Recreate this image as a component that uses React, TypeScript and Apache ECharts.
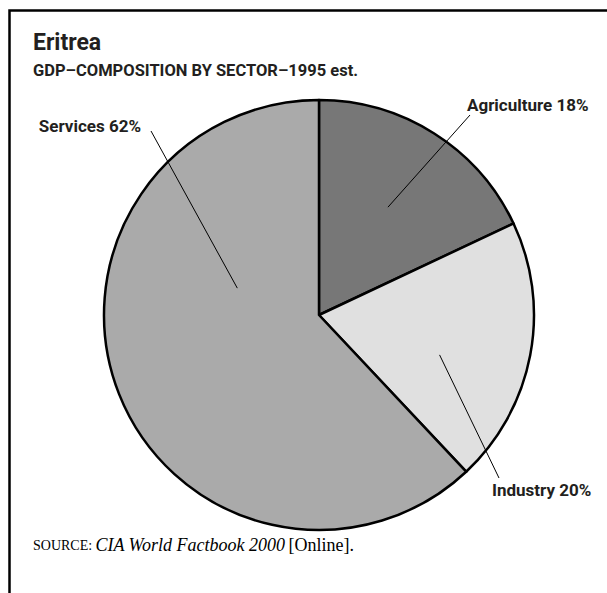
import React, { useEffect, useRef } from "react";
import * as echarts from "echarts";

const sectors = ["Agriculture", "Industry", "Services"];
const shares = [18, 20, 62];
const sliceColors = ["#777777", "#e0e0e0", "#aaaaaa"];

// label layout (style): text anchor x, y, alignment; leader line start (angle from top in deg, radius px) and end point
const labelAnchors = [
  { x: 467, y: 105, align: "left", startAngle: 32.6, startR: 128, end: [470, 115] },
  { x: 492, y: 490, align: "left", startAngle: 108.3, startR: 127, end: [499, 478] },
  { x: 141, y: 126, align: "right", startAngle: 288.2, startR: 86, end: [151, 131] },
];

const CX = 319;
const CY = 315;
const R = 215;

const sans = "Roboto, 'Liberation Sans', sans-serif";
const ink = "#231f20";

export default function App() {
  const ref = useRef<HTMLDivElement>(null);
  useEffect(() => {
    document.body.style.margin = "0";
    const chart = echarts.init(ref.current!, null, { renderer: "svg" });
    const data = sectors.map((name, i) => ({
      name,
      value: shares[i],
      itemStyle: { color: sliceColors[i] },
    }));
    const leaderLines = labelAnchors.map((a) => {
      const ang = (a.startAngle * Math.PI) / 180;
      return {
        type: "line",
        z: 100,
        shape: {
          x1: CX + a.startR * Math.sin(ang),
          y1: CY - a.startR * Math.cos(ang),
          x2: a.end[0],
          y2: a.end[1],
        },
        style: { stroke: "#000", lineWidth: 1 },
      };
    });
    chart.setOption({
      animation: false,
      backgroundColor: "#ffffff",
      series: [
        {
          type: "pie",
          center: [CX, CY],
          radius: [0, R],
          startAngle: 90,
          clockwise: true,
          avoidLabelOverlap: false,
          data,
          itemStyle: { borderColor: "#000", borderWidth: 2.5 },
          emphasis: { disabled: true },
          label: {
            show: true,
            position: "outside",
            formatter: (p: any) => `${p.name} ${p.value}%`,
            fontFamily: sans,
            fontWeight: "bold",
            fontSize: 17,
            color: ink,
          },
          labelLine: { show: false },
          labelLayout: (params: any) => {
            const a = labelAnchors[params.dataIndex];
            return {
              x: a.x,
              y: a.y,
              align: a.align,
              verticalAlign: "middle",
            };
          },
        },
      ],
      graphic: [
        {
          type: "polyline",
          shape: { points: [[9.5, 593], [9.5, 10.5], [607, 10.5]] },
          style: { stroke: "#000", lineWidth: 2.5, fill: null },
        },
        {
          type: "text",
          left: 33,
          top: 31,
          style: {
            text: "Eritrea",
            font: `bold 23px ${sans}`,
            fill: ink,
          },
        },
        {
          type: "text",
          left: 33,
          top: 62,
          style: {
            text: "GDP–COMPOSITION BY SECTOR–1995 est.",
            font: `bold 16.5px ${sans}`,
            fill: ink,
          },
        },
        {
          type: "text",
          left: 33,
          top: 536,
          style: {
            text: "{a|SOURCE:} {b|CIA World Factbook 2000} {c|[Online].}",
            rich: {
              a: { fontFamily: "'Liberation Serif', serif", fontSize: 14, color: ink },
              b: { fontFamily: "'Liberation Serif', serif", fontSize: 18, fontStyle: "italic", color: ink },
              c: { fontFamily: "'Liberation Serif', serif", fontSize: 18, color: ink },
            },
          },
        },
        ...leaderLines,
      ],
    });
    return () => chart.dispose();
  }, []);
  return <div ref={ref} style={{ width: 607, height: 593 }} />;
}
